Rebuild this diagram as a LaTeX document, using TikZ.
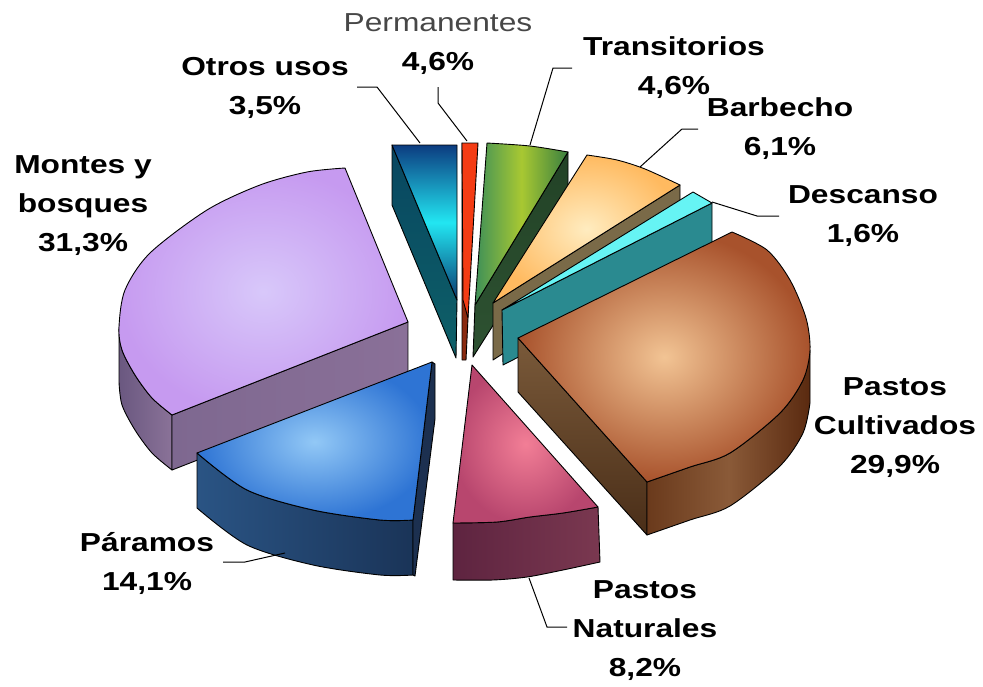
\documentclass[tikz,border=0pt]{standalone}
\usepackage{fontspec}
\setmainfont[FakeStretch=1.22]{Liberation Sans}
\begin{document}
\begin{tikzpicture}[x=1pt,y=-1pt,
  face/.style={draw=black, line width=0.9pt, line join=round},
  leader/.style={draw=black, line width=1pt},
  lbl/.style={font=\fontsize{26}{39}\selectfont\bfseries, align=center, inner sep=0pt, text=black}]
\useasboundingbox (0,0) rectangle (983,686);
\fill[white] (0,0) rectangle (983,686);

% ---------- Otros usos ----------
\shade[face, top color={rgb,255:red,8;green,70;blue,96}, bottom color={rgb,255:red,14;green,96;blue,104}] (392,145) -- (392,205) -- (456,358) -- (457,300) -- cycle;
\shade[face, top color={rgb,255:red,12;green,60;blue,128}, bottom color={rgb,255:red,10;green,58;blue,112}, middle color={rgb,255:red,34;green,230;blue,242}] (392,145) -- (457,145) -- (457,300) -- cycle;

% ---------- Permanentes ----------
\fill[face, fill={rgb,255:red,138;green,42;blue,16}] (462,143) -- (462,360) -- (466,360) -- (468,318) -- cycle;
\fill[face, fill={rgb,255:red,244;green,60;blue,20}] (462,143) -- (478,143) -- (468,318) -- (463,300) -- cycle;

% ---------- Transitorios ----------
\shade[face, top color={rgb,255:red,34;green,66;blue,38}, bottom color={rgb,255:red,46;green,82;blue,50}] (568,152) -- (568,207) -- (473,357) -- (475,305) -- cycle;
\shade[face, left color={rgb,255:red,62;green,144;blue,88}, right color={rgb,255:red,58;green,128;blue,64}, middle color={rgb,255:red,168;green,200;blue,50}] (475,305) -- (487,143) -- plot[smooth] coordinates {(487,143) (530,146) (568,152)} -- cycle;

% ---------- Barbecho ----------
\fill[face, fill={rgb,255:red,122;green,106;blue,72}] (680,185) -- (680,240) -- (493,360) -- (493,303) -- cycle;
\shade[face, inner color={rgb,255:red,255;green,236;blue,192}, outer color={rgb,255:red,255;green,186;blue,96}] (493,303) -- (587,155) -- plot[smooth] coordinates {(587,155) (617,160) (645,169) (680,185)} -- cycle;

% ---------- Descanso ----------
\fill[face, fill={rgb,255:red,42;green,138;blue,144}] (712,203) -- (712,258) -- (503,365) -- (502,310) -- cycle;
\fill[face, fill={rgb,255:red,102;green,244;blue,244}] (502,310) -- (693,192) -- (712,203) -- cycle;

% ---------- Montes y bosques ----------
\shade[face, left color={rgb,255:red,106;green,88;blue,128}, right color={rgb,255:red,138;green,114;blue,152}] plot[smooth] coordinates {(119,327) (122,350) (135,375) (152,398) (172,415)} -- (172,470) -- plot[smooth] coordinates {(172,470) (152,453) (135,430) (122,405) (119,382)} -- cycle;
\shade[face, left color={rgb,255:red,126;green,104;blue,144}, right color={rgb,255:red,138;green,112;blue,152}] (172,415) -- (408,322) -- (408,378) -- (172,470) -- cycle;
\shade[face, inner color={rgb,255:red,216;green,200;blue,250}, outer color={rgb,255:red,198;green,154;blue,240}] (408,322) -- (345,168) -- plot[smooth] coordinates {(345,168) (307,172) (260,185) (207,210) (150,253) (125,290) (119,327) (122,350) (135,375) (152,398) (172,415)} -- cycle;

% ---------- Pastos Cultivados ----------
\shade[face, top color={rgb,255:red,122;green,90;blue,58}, bottom color={rgb,255:red,74;green,46;blue,24}] (518,338) -- (647,482) -- (647,535) -- (518,392) -- cycle;
\shade[face, left color={rgb,255:red,106;green,58;blue,28}, right color={rgb,255:red,90;green,42;blue,16}, middle color={rgb,255:red,138;green,90;blue,56}] plot[smooth] coordinates {(647,482) (690,467) (730,453) (780,413) (803,380) (810,350)} -- (810,403) -- plot[smooth] coordinates {(810,403) (803,433) (780,466) (730,506) (690,520) (647,535)} -- cycle;
\shade[face, inner color={rgb,255:red,242;green,196;blue,148}, outer color={rgb,255:red,168;green,82;blue,44}] (518,338) -- (732,232) -- plot[smooth] coordinates {(732,232) (767,250) (790,280) (806,318) (810,350) (803,380) (780,413) (730,453) (690,467) (647,482)} -- cycle;

% ---------- Paramos ----------
\shade[face, left color={rgb,255:red,42;green,84;blue,132}, right color={rgb,255:red,26;green,52;blue,88}] plot[smooth] coordinates {(197,453) (247,490) (313,510) (380,520) (413,520)} -- (413,575) -- plot[smooth] coordinates {(413,575) (380,575) (313,565) (247,545) (197,508)} -- cycle;
\fill[face, fill={rgb,255:red,28;green,48;blue,80}] (432,362) -- (435,364) -- (435,419) -- (415,576) -- (413,575) -- (413,520) -- cycle;
\shade[face, inner color={rgb,255:red,146;green,200;blue,246}, outer color={rgb,255:red,46;green,116;blue,212}] (432,362) -- (197,453) -- plot[smooth] coordinates {(197,453) (247,490) (313,510) (380,520) (413,520)} -- cycle;

% ---------- Pastos Naturales ----------
\shade[face, left color={rgb,255:red,94;green,36;blue,64}, right color={rgb,255:red,122;green,56;blue,80}] plot[smooth] coordinates {(453,523) (497,522) (530,517) (563,513) (598,507)} -- (600,562) -- plot[smooth] coordinates {(600,562) (563,570) (527,577) (493,580) (453,580)} -- cycle;
\shade[face, inner color={rgb,255:red,242;green,126;blue,150}, outer color={rgb,255:red,184;green,70;blue,110}] (472,365) -- (453,523) -- plot[smooth] coordinates {(453,523) (497,522) (530,517) (563,513) (598,507)} -- cycle;

% ---------- Labels ----------
\node[lbl] (otros) at (265,88) {Otros usos\\3,5\%};
\node[lbl] (perm) at (438,44) {{\mdseries\color{black!72}Permanentes}\\4,6\%};
\node[lbl] (trans) at (674,68) {Transitorios\\4,6\%};
\node[lbl] (barb) at (780,129) {Barbecho\\6,1\%};
\node[lbl] (desc) at (863,216) {Descanso\\1,6\%};
\node[lbl] (cult) at (895,428) {Pastos\\Cultivados\\29,9\%};
\node[lbl] (nat) at (645,631) {Pastos\\Naturales\\8,2\%};
\node[lbl] (param) at (147,563) {Páramos\\14,1\%};
\node[lbl] (montes) at (83,206) {Montes y\\bosques\\31,3\%};

% ---------- Leaders ----------
\coordinate (o1) at (357,87); \coordinate (o2) at (377,87); \coordinate (o3) at (420,143);
\draw[leader] (o1) -- (o2) -- (o3);
\coordinate (p1) at (438,87); \coordinate (p2) at (438,103); \coordinate (p3) at (467,141);
\draw[leader] (p1) -- (p2) -- (p3);
\coordinate (t1) at (572,68); \coordinate (t2) at (553,68); \coordinate (t3) at (530,145);
\draw[leader] (t1) -- (t2) -- (t3);
\coordinate (b1) at (698,129); \coordinate (b2) at (682,129); \coordinate (b3) at (640,167);
\draw[leader] (b1) -- (b2) -- (b3);
\coordinate (d1) at (779,216); \coordinate (d2) at (757,216); \coordinate (d3) at (712,202);
\draw[leader] (d1) -- (d2) -- (d3);
\coordinate (r1) at (223,562); \coordinate (r2) at (245,562); \coordinate (r3) at (285,553);
\draw[leader] (r1) -- (r2) -- (r3);
\coordinate (n1) at (529,578); \coordinate (n2) at (547,627); \coordinate (n3) at (567,627);
\draw[leader] (n1) -- (n2) -- (n3);
\end{tikzpicture}
\end{document}
